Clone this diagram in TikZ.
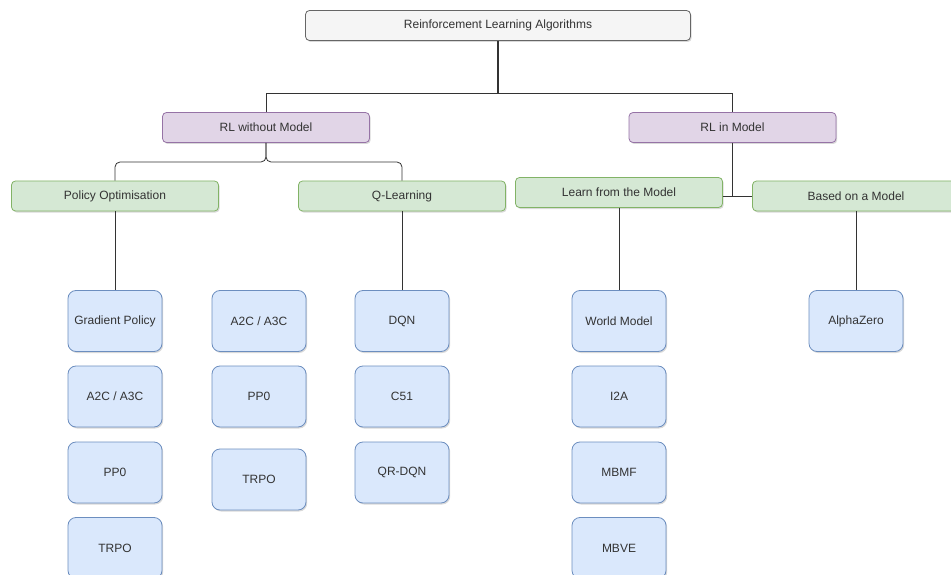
\documentclass[tikz,border=0pt]{standalone}
\usepackage{fontspec}
\setmainfont{Liberation Sans}
\usepackage{tikz}
\usetikzlibrary{shadows}

\definecolor{rootfill}{HTML}{F5F5F5}
\definecolor{rootline}{HTML}{666666}
\definecolor{purplefill}{HTML}{E1D5E7}
\definecolor{purpleline}{HTML}{9673A6}
\definecolor{greenfill}{HTML}{D5E8D4}
\definecolor{greenline}{HTML}{82B366}
\definecolor{bluefill}{HTML}{DAE8FC}
\definecolor{blueline}{HTML}{6C8EBF}
\definecolor{textgrey}{HTML}{333333}

\begin{document}
\begin{tikzpicture}[x=1pt, y=-1pt,
    every node/.style={rectangle, line width=0.8pt, inner sep=0pt, text=textgrey,
        font=\fontsize{12}{14}\selectfont,
        drop shadow={shadow xshift=1.2pt, shadow yshift=-1.5pt, opacity=0.25, fill=black!60}},
    rootbox/.style={draw=rootline, fill=rootfill, rounded corners=4pt, minimum width=385pt, minimum height=30pt},
    branch/.style={draw=purpleline, fill=purplefill, rounded corners=4pt, minimum width=207pt, minimum height=30pt},
    family/.style={draw=greenline, fill=greenfill, rounded corners=4pt, minimum width=207pt, minimum height=30pt},
    leaf/.style={draw=blueline, fill=bluefill, rounded corners=8pt, minimum width=94pt, minimum height=61pt},
    link/.style={draw=black!80, line width=0.8pt}]
    \useasboundingbox (0,0) rectangle (951,575);

    \node[rootbox] (RLA) at (498,25.5) {Reinforcement Learning Algorithms};
    \node[branch] (Free) at (266,127.5) {RL without Model};
    \node[branch] (InModel) at (732.5,127.5) {RL in Model};

    \node[family] (PolOpt) at (115,196) {Policy Optimisation};
    \node[family] (QLearn) at (402,196) {Q-Learning};
    \node[family] (Learn) at (619,192.5) {Learn from the Model};
    \node[family] (Based) at (856,196) {Based on a Model};

    \node[leaf] (GP) at (115,321) {Gradient Policy};
    \node[leaf] (AC1) at (115,396.5) {A2C / A3C};
    \node[leaf] (PPO1) at (115,472.5) {PP0};
    \node[leaf] (TRPO1) at (115,548) {TRPO};

    \node[leaf] (AC2) at (259,321) {A2C / A3C};
    \node[leaf] (PPO2) at (259,396.5) {PP0};
    \node[leaf] (TRPO2) at (259,479.5) {TRPO};

    \node[leaf] (DQN) at (402,321) {DQN};
    \node[leaf] (C51) at (402,396.5) {C51};
    \node[leaf] (QRDQN) at (402,472.5) {QR-DQN};

    \node[leaf] (WM) at (619,321) {World Model};
    \node[leaf] (I2A) at (619,396.5) {I2A};
    \node[leaf] (MBMF) at (619,472.5) {MBMF};
    \node[leaf] (MBVE) at (619,548) {MBVE};

    \node[leaf] (AZ) at (856,321) {AlphaZero};

    \coordinate (J1) at (498,93);
    \coordinate (J2) at (266,162);
    \coordinate (J3) at (732.5,196);

    \draw[link, line width=1.2pt] (RLA) -- (J1);
    \draw[link] (J1) -| (Free);
    \draw[link] (J1) -| (InModel);

    \draw[link, rounded corners=5pt] (Free) -- (J2) -| (PolOpt);
    \draw[link, rounded corners=5pt] (Free) -- (J2) -| (QLearn);

    \draw[link] (InModel) -- (J3);
    \draw[link] (Learn.east |- J3) -- (Based.west);

    \draw[link] (PolOpt) -- (GP);
    \draw[link] (QLearn) -- (DQN);
    \draw[link] (Learn) -- (WM);
    \draw[link] (Based) -- (AZ);
\end{tikzpicture}
\end{document}
